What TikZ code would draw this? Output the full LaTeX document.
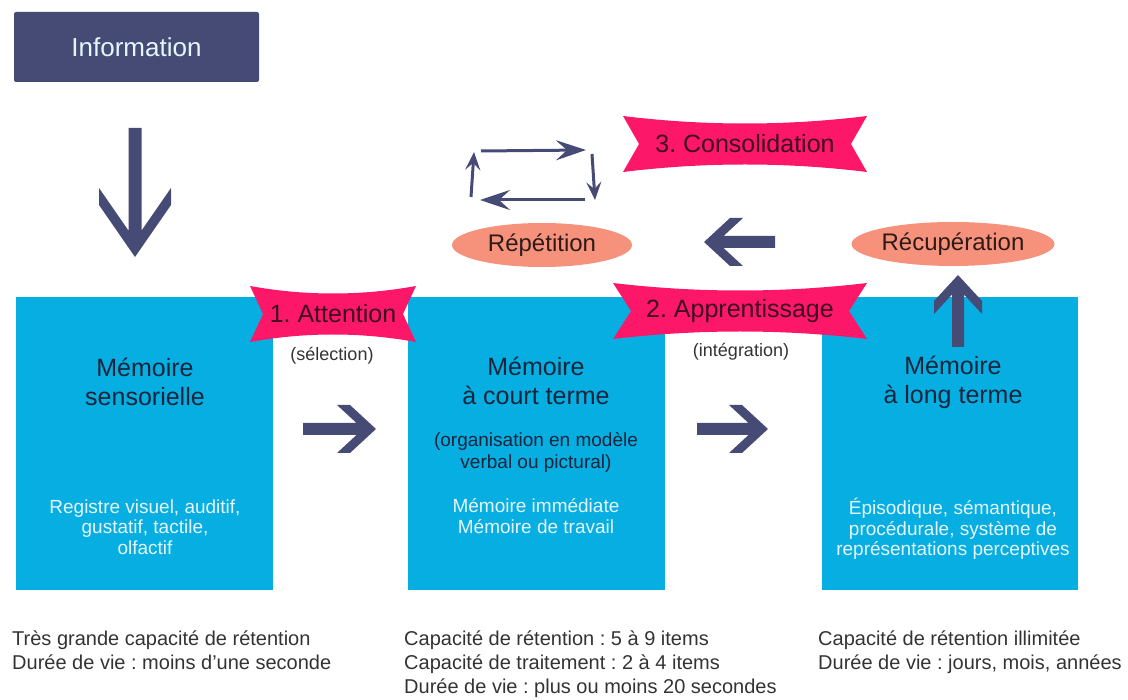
\documentclass[tikz,border=0pt]{standalone}
\usepackage{fontspec}
\setmainfont{Liberation Sans}
\usetikzlibrary{arrows.meta,shapes.geometric}
\frenchspacing

\definecolor{navy}{HTML}{464B76}
\definecolor{memblue}{HTML}{06AEE1}
\definecolor{ribbonpink}{HTML}{FD1768}
\definecolor{salmon}{HTML}{F6917C}
\definecolor{titleink}{HTML}{15253B}
\definecolor{ribbonink}{HTML}{3E0B22}
\definecolor{bubbleink}{HTML}{2E1B18}
\definecolor{paleink}{HTML}{E6F5FB}
\definecolor{noteink}{HTML}{333333}

\newcommand\fsz[2]{\fontsize{#1}{#2}\selectfont}

% ribbon: name, cx, cy, half width, half height, notch, text
\newcommand\ribbon[7]{%
  \fill[ribbonpink] ({#2-#4},{#3-#5}) .. controls ({#2-#4/3},{#3-#5+10}) and ({#2+#4/3},{#3-#5+10}) .. ({#2+#4},{#3-#5})
    -- ({#2+#4-#6},#3) -- ({#2+#4},{#3+#5})
    .. controls ({#2+#4/3},{#3+#5-10}) and ({#2-#4/3},{#3+#5-10}) .. ({#2-#4},{#3+#5})
    -- ({#2-#4+#6},#3) -- cycle;
  \node[ribbontext] (#1) at (#2,#3) {#7};}

% fat arrow: start, angle, length, half shaft, head half width, head length, arm
\newcommand\fatarrow[7]{%
  \begin{scope}[shift={#1},rotate=#2]
    \pgfmathsetmacro\armcut{#7+(#6-#7)*#4/#5}
    \fill[navy] (0,-#4) -- ({#3-\armcut},-#4) -- ({#3-#6},-#5) -- ({#3-#6+#7},-#5) -- (#3,0)
      -- ({#3-#6+#7},#5) -- ({#3-#6},#5) -- ({#3-\armcut},#4) -- (0,#4) -- cycle;
  \end{scope}}

\tikzset{
  membox/.style={fill=memblue, minimum width=257pt, minimum height=293pt, inner sep=0pt},
  memtitle/.style={text=titleink, align=center, font=\fsz{25}{29}},
  memnote/.style={text=paleink, align=center, font=\fsz{19}{20.5}},
  memdark/.style={text=titleink, align=center, font=\fsz{19}{22}},
  ribbontext/.style={text=ribbonink, font=\fsz{25}{29}, inner sep=0pt},
  bubble/.style={ellipse, fill=salmon, text=bubbleink, font=\fsz{24}{28}, inner sep=0pt, minimum height=44pt},
  paren/.style={text=noteink, font=\fsz{18}{22}},
  bottomnote/.style={text=noteink, align=left, font=\fsz{20}{24}, inner sep=0pt, anchor=north west},
  loopline/.style={navy, line width=3pt},
  longtip/.style={-{Stealth[length=30pt,width=20pt,inset=11pt]}},
  shorttip/.style={-{Stealth[length=18pt,width=15pt,inset=7pt]}}
}

\begin{document}
\begin{tikzpicture}[x=1pt,y=-1pt]
  \useasboundingbox (0,0) rectangle (1128,700);

  % source
  \node[fill=navy, rounded corners=2pt, minimum width=245pt, minimum height=70pt,
        text=paleink, font=\fsz{26}{30}] (info) at (136.5,47) {Information};
  \fatarrow{(135,128)}{-90}{129}{6.5}{36}{69}{17}

  % the three memories
  \node[membox] (sens) at (144.5,443.5) {};
  \node[membox] (court) at (536,443.5) {};
  \node[membox, minimum width=256pt] (long) at (950,443.5) {};

  \node[memtitle] (sensT) at (145,382) {Mémoire\\sensorielle};
  \node[memnote] (sensN) at (145,527) {Registre visuel, auditif,\\gustatif, tactile,\\olfactif};

  \node[memtitle] (courtT) at (536,381) {Mémoire\\à court terme};
  \node[memdark] (courtD) at (536,452) {(organisation en modèle\\verbal ou pictural)};
  \node[memnote] (courtN) at (536,516) {Mémoire immédiate\\Mémoire de travail};

  \node[memtitle] (longT) at (953,382) {Mémoire\\à long terme};
  \node[memnote] (longN) at (953,529) {Épisodique, sémantique,\\procédurale, système de\\représentations perceptives};

  % steps
  \ribbon{att}{333}{314}{83}{28}{13}{1. Attention}
  \ribbon{app}{740}{311}{127}{28}{18}{2. Apprentissage}
  \ribbon{cons}{745}{144}{122}{28}{16}{3. Consolidation}

  \node[paren] (sel) at (332,356) {(sélection)};
  \node[paren] (integ) at (741,352) {(intégration)};

  \fatarrow{(303,429)}{0}{73}{6}{24}{39}{13}
  \fatarrow{(697,429)}{0}{71}{6}{24}{39}{13}
  \fatarrow{(775,242)}{180}{71}{6}{24}{39}{13}
  \fatarrow{(958,347)}{90}{72}{6}{24}{39}{13}

  \node[bubble, minimum width=180pt] (rep) at (542,245) {Répétition};
  \node[bubble, minimum width=203pt] (recup) at (953,244) {Récupération};

  % repetition loop
  \coordinate (cyA) at (481,151);
  \coordinate (cyB) at (586,150);
  \coordinate (cyC) at (592,154);
  \coordinate (cyD) at (595,200);
  \coordinate (cyE) at (585,200);
  \coordinate (cyF) at (480,200);
  \coordinate (cyG) at (471,197);
  \coordinate (cyH) at (474,152);
  \draw[loopline, longtip] (cyA) -- (cyB);
  \draw[loopline, shorttip] (cyC) -- (cyD);
  \draw[loopline, longtip] (cyE) -- (cyF);
  \draw[loopline, shorttip] (cyG) -- (cyH);

  % capacities
  \node[bottomnote] (capS) at (12,631) {Très grande capacité de rétention\\Durée de vie : moins d’une seconde};
  \node[bottomnote] (capC) at (404,631) {Capacité de rétention : 5 à 9 items\\Capacité de traitement : 2 à 4 items\\Durée de vie : plus ou moins 20 secondes};
  \node[bottomnote] (capL) at (818,631) {Capacité de rétention illimitée\\Durée de vie : jours, mois, années};
\end{tikzpicture}
\end{document}
